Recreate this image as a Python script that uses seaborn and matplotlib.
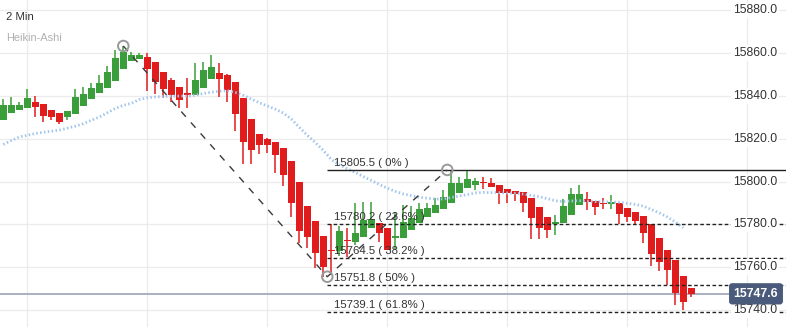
import numpy as np
import pandas as pd
import matplotlib
matplotlib.use("Agg")
import matplotlib.pyplot as plt
import seaborn as sns

# ---------------- data ----------------
timeframe = "2 Min"
chart_type = "Heikin-Ashi"

opens = [15828.8, 15832.2, 15833.5, 15834.6, 15837.2, 15836.2, 15833.5, 15832.0, 15830.1, 15831.6,
         15835.4, 15838.6, 15841.3, 15843.6, 15847.2, 15852.5, 15856.5, 15857.3, 15858.1, 15855.8,
         15851.1, 15847.5, 15844.1, 15841.3, 15840.5, 15843.9, 15848.0, 15850.7, 15849.9, 15846.4,
         15839.0, 15829.3, 15822.3, 15820.0, 15818.5, 15815.7, 15809.7, 15799.7, 15788.8, 15781.6,
         15774.6, 15767.9, 15767.6, 15772.4, 15772.0, 15774.0, 15778.5, 15780.8, 15778.2, 15773.5,
         15773.8, 15777.4, 15780.5, 15783.4, 15785.6, 15787.2, 15790.2, 15794.9, 15796.9, 15798.5,
         15799.5, 15799.4, 15798.5, 15796.6, 15795.7, 15795.0, 15792.5, 15788.0, 15783.4, 15780.2,
         15780.8, 15784.4, 15789.1, 15791.8, 15791.1, 15790.0, 15789.6, 15789.9, 15787.8, 15786.0,
         15784.0, 15780.1, 15773.7, 15768.1, 15763.4, 15755.9, 15750.1]
closes = [15835.8, 15835.8, 15835.8, 15839.0, 15835.0, 15830.8, 15830.1, 15828.0, 15833.0, 15839.4,
          15841.0, 15843.6, 15846.0, 15851.1, 15857.7, 15860.7, 15859.2, 15859.2, 15852.7, 15846.7,
          15843.3, 15840.5, 15838.2, 15840.5, 15847.5, 15852.2, 15853.5, 15848.0, 15842.8, 15831.6,
          15818.7, 15814.8, 15817.1, 15817.1, 15812.5, 15803.1, 15789.9, 15777.1, 15774.3, 15766.8,
          15760.3, 15767.6, 15777.1, 15772.1, 15776.2, 15782.1, 15782.4, 15776.2, 15768.1, 15774.6,
          15781.3, 15782.9, 15787.1, 15787.8, 15789.1, 15793.0, 15799.2, 15799.2, 15801.1, 15800.3,
          15799.2, 15797.4, 15794.9, 15794.6, 15794.1, 15789.9, 15783.2, 15778.5, 15777.4, 15781.2,
          15788.6, 15794.2, 15794.2, 15790.7, 15788.3, 15789.7, 15790.5, 15784.9, 15783.6, 15781.6,
          15776.2, 15766.2, 15762.6, 15758.7, 15748.1, 15743.9, 15747.6]
highs = [15838.5, 15839.4, 15837.4, 15843.3, 15840.0, 15836.2, 15833.5, 15832.0, 15833.0, 15843.2,
         15844.1, 15846.3, 15849.9, 15854.1, 15861.5, 15863.4, 15860.7, 15860.3, 15860.0, 15855.8,
         15851.1, 15848.3, 15844.1, 15848.3, 15855.3, 15855.8, 15859.2, 15855.3, 15850.3, 15846.4,
         15839.0, 15829.3, 15822.3, 15820.6, 15818.5, 15815.7, 15809.7, 15799.7, 15788.8, 15781.6,
         15774.6, 15780.2, 15779.3, 15778.4, 15790.2, 15790.7, 15790.7, 15780.8, 15778.2, 15786.0,
         15789.1, 15788.6, 15790.0, 15790.2, 15792.5, 15796.1, 15805.0, 15802.2, 15805.5, 15801.6,
         15802.3, 15801.6, 15798.5, 15796.6, 15795.7, 15795.0, 15792.5, 15788.0, 15783.4, 15784.4,
         15791.9, 15797.2, 15798.5, 15795.0, 15791.1, 15792.2, 15793.8, 15789.9, 15787.8, 15786.0,
         15784.0, 15780.1, 15773.7, 15768.1, 15763.4, 15755.9, 15750.1]
lows = [15828.8, 15832.2, 15833.5, 15834.6, 15830.1, 15828.0, 15828.8, 15827.0, 15828.8, 15831.6,
        15835.4, 15838.6, 15841.3, 15843.6, 15847.2, 15852.5, 15856.5, 15857.3, 15842.5, 15841.0,
        15839.0, 15837.4, 15834.3, 15834.6, 15840.5, 15843.9, 15848.0, 15839.7, 15837.4, 15823.8,
        15808.3, 15808.3, 15812.9, 15813.5, 15804.1, 15798.0, 15783.6, 15771.2, 15768.9, 15759.5,
        15755.6, 15756.4, 15765.3, 15765.0, 15770.4, 15774.0, 15778.5, 15772.0, 15768.1, 15768.1,
        15773.8, 15777.4, 15780.5, 15783.4, 15785.6, 15787.2, 15790.2, 15794.9, 15796.9, 15796.1,
        15796.4, 15797.4, 15789.6, 15790.2, 15791.1, 15786.0, 15773.2, 15773.2, 15773.5, 15775.1,
        15780.8, 15784.4, 15789.1, 15786.8, 15784.4, 15787.1, 15787.1, 15780.2, 15781.3, 15780.1,
        15771.5, 15760.7, 15758.4, 15751.7, 15742.4, 15740.0, 15746.3]
ma_values = [15817.4, 15819.2, 15820.9, 15821.7, 15822.5, 15823.1, 15823.6, 15824.1, 15825.0, 15825.9,
             15827.1, 15828.7, 15830.2, 15832.2, 15834.2, 15835.7, 15836.6, 15838.4, 15839.2, 15839.6,
             15839.8, 15840.0, 15840.0, 15840.0, 15840.4, 15841.2, 15841.8, 15842.3, 15842.5, 15841.7,
             15840.4, 15838.6, 15836.9, 15835.4, 15833.9, 15832.1, 15829.3, 15825.4, 15821.7, 15818.3,
             15814.6, 15810.4, 15807.9, 15806.0, 15804.3, 15802.4, 15800.6, 15798.7, 15797.0, 15795.5,
             15794.3, 15793.5, 15792.7, 15792.3, 15791.9, 15791.9, 15792.6, 15793.3, 15794.0, 15794.7,
             15795.0, 15794.9, 15794.9, 15794.7, 15794.6, 15794.2, 15793.6, 15793.0, 15792.1, 15791.1,
             15790.7, 15791.0, 15791.1, 15791.0, 15790.7, 15790.6, 15790.5, 15790.4, 15789.9, 15789.4,
             15788.6, 15787.0, 15785.4, 15783.5, 15781.2, 15778.4]

y_ticks = [15740, 15760, 15780, 15800, 15820, 15840, 15860, 15880]
fib_values = [15805.5, 15780.2, 15764.5, 15751.8, 15739.1]
fib_labels = ["0%", "23.6%", "38.2%", "50%", "61.8%"]
swing_idx = [15, 40.5, 55.5]
swing_val = [15863.4, 15755.6, 15805.5]
last_price = 15747.6

# ---------------- style ----------------
sns.set_theme(style="white")
plt.rcParams['font.family'] = ['Liberation Sans', 'DejaVu Sans']
plt.rcParams['lines.scale_dashes'] = False

GREEN = '#3a9f3a'
RED = '#e01c1c'

df = pd.DataFrame({"open": opens, "high": highs, "low": lows, "close": closes})
df["idx"] = np.arange(len(df))
df["up"] = df["close"] >= df["open"]

fig = plt.figure(figsize=(7.86, 3.27), dpi=100)
ax = fig.add_axes([0, 0, 1, 1])
ax.set_xlim(-0.4125, 97.84)
ax.set_ylim(15732.1, 15884.9)
for s in ax.spines.values():
    s.set_visible(False)

ax.set_yticks(y_ticks)
ax.set_xticks([2.96 + 15 * k for k in range(7)])
ax.tick_params(length=0, labelleft=False, labelbottom=False)
ax.grid(True, color='#ebebeb', lw=0.9)
ax.set_axisbelow(True)

colors = np.where(df["up"], GREEN, RED)
# wicks
ax.vlines(df["idx"], df["low"], df["high"], colors=colors, lw=1.1, zorder=3)
# bodies
bottoms = np.minimum(df["open"], df["close"])
heights = np.maximum(np.abs(df["close"] - df["open"]), 0.55)
ax.bar(df["idx"], heights, bottom=bottoms, width=0.82, color=colors,
       edgecolor='none', linewidth=0, zorder=4)

# moving average (dotted light blue)
ma_df = pd.DataFrame({"idx": np.arange(len(ma_values)), "ma": ma_values})
sns.lineplot(data=ma_df, x="idx", y="ma", ax=ax, color='#a3c6ec', lw=2.0, zorder=5)
ma_line = ax.lines[-1]
ma_line.set_linestyle((0, (1.1, 1.7)))
ma_line.set_dash_capstyle('butt')

# current price line
ax.axhline(last_price, xmin=0, xmax=729 / 786, color='#9ba4b7', lw=1.2, zorder=2)

# fib extension lines
x_end = ax.get_xlim()[1]
for k, (val, lab) in enumerate(zip(fib_values, fib_labels)):
    ls = '-' if k == 0 else (0, (2.6, 1.8))
    ax.hlines(val, swing_idx[1], x_end, colors='#222222', lw=1.0, linestyles=[ls], zorder=6)
    ax.annotate(f"{val:.1f} ( {lab} )", xy=(swing_idx[1] + 0.85, val), xytext=(0, 1.5),
                textcoords='offset points', ha='left', va='bottom',
                fontsize=8.2, color='#333333', zorder=9)

# trend lines between swing points
ax.plot(swing_idx, swing_val, color='#3a3a3a', lw=1.0, ls=(0, (5.0, 5.5)), zorder=6)
ax.scatter(swing_idx, swing_val, s=58, facecolors='none', edgecolors='#9a9a9a',
           linewidths=1.4, zorder=7)

# right-side price labels
ytr = ax.get_yaxis_transform()
for v in y_ticks:
    ax.text(733 / 786, v, f"{v:.1f}", transform=ytr, ha='left', va='center',
            fontsize=8.7, color='#333333', zorder=10,
            bbox=dict(boxstyle='square,pad=0.15', fc='white', ec='none'))

ax.text(756 / 786, last_price, f"{last_price:.1f}", transform=ytr, ha='center', va='center',
        fontsize=8.8, fontweight='bold', color='white', zorder=11,
        bbox=dict(boxstyle='round,pad=0.38,rounding_size=0.25', fc='#4a5a7b', ec='none'))

# header texts
fig.text(6 / 786, 1 - 17 / 327, timeframe, ha='left', va='center', fontsize=8.2, color='#333333')
fig.text(6 / 786, 1 - 38 / 327, chart_type, ha='left', va='center', fontsize=7.9, color='#b0b0b0')

fig.savefig("out.png", dpi=100)
